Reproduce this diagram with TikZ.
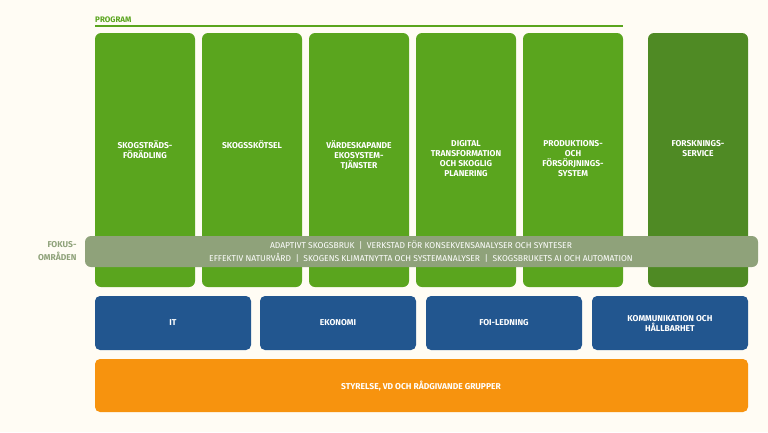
\documentclass[tikz,border=0pt]{standalone}
\usepackage{fontspec}
\setmainfont{Fira Sans}
\usepackage{tikz}
\definecolor{bg}{HTML}{FFFCF4}
\definecolor{prog}{HTML}{5AA51E}
\definecolor{serv}{HTML}{4F8A24}
\definecolor{band}{HTML}{8FA27A}
\definecolor{stod}{HTML}{22568F}
\definecolor{styr}{HTML}{F7930E}
\definecolor{lbl}{HTML}{8FA27A}
\tikzset{
  col/.style={fill=prog, rounded corners=6pt},
  box/.style={fill=stod, rounded corners=5pt},
  txt/.style={text=white, font=\fontsize{8.5}{10}\selectfont\bfseries, align=center},
}
\begin{document}
\begin{tikzpicture}[x=1pt,y=-1pt]
\fill[bg] (0,0) rectangle (768,432);
\useasboundingbox (0,0) rectangle (768,432);
% program
\node[anchor=south west, inner sep=0pt, text=prog, font=\fontsize{8}{9}\selectfont\bfseries] (prog) at (95,23) {PROGRAM};
\draw[prog, line width=2pt] (95,26) -- (623,26);
\fill[col] (95,33) rectangle (195,287);
\fill[col] (202,33) rectangle (302,287);
\fill[col] (309,33) rectangle (409,287);
\fill[col] (416,33) rectangle (516,287);
\fill[col] (523,33) rectangle (623,287);
\fill[col, fill=serv] (648,33) rectangle (748,287);
\node[txt, anchor=north] (p1) at (145,137) {SKOGSTRÄDS-\\FÖRÄDLING};
\node[txt, anchor=north] (p2) at (252,137) {SKOGSSKÖTSEL};
\node[txt, anchor=north] (p3) at (359,137) {VÄRDESKAPANDE\\EKOSYSTEM-\\TJÄNSTER};
\node[txt, anchor=north] (p4) at (466,137) {DIGITAL\\TRANSFORMATION\\OCH SKOGLIG\\PLANERING};
\node[txt, anchor=north] (p5) at (573,137) {PRODUKTIONS-\\OCH\\FÖRSÖRJNINGS-\\SYSTEM};
\node[txt, anchor=north] (fs) at (698,137) {FORSKNINGS-\\SERVICE};
% fokusomraden
\fill[band, rounded corners=6pt] (85,236) rectangle (758,267);
\node[txt, font=\fontsize{8.5}{13}\selectfont] (fokus) at (421,252) {ADAPTIVT SKOGSBRUK~~|~~VERKSTAD FÖR KONSEKVENSANALYSER OCH SYNTESER\\EFFEKTIV NATURVÅRD~~|~~SKOGENS KLIMATNYTTA OCH SYSTEMANALYSER~~|~~SKOGSBRUKETS AI OCH AUTOMATION};
\node[txt, text=lbl, anchor=east, font=\fontsize{8.5}{13}\selectfont\bfseries, align=right] (fo) at (80,251) {FOKUS-\\OMRÅDEN};
% stod
\fill[box] (95,296) rectangle (251,350);
\fill[box] (260,296) rectangle (416,350);
\fill[box] (426,296) rectangle (582,350);
\fill[box] (592,296) rectangle (748,350);
\node[txt] (it) at (173,323) {IT};
\node[txt] (ek) at (338,323) {EKONOMI};
\node[txt] (foi) at (504,323) {FOI-LEDNING};
\node[txt] (kom) at (670,323) {KOMMUNIKATION OCH\\HÅLLBARHET};
\fill[box, fill=styr] (95,359) rectangle (748,412);
\node[txt] (styr) at (421,386) {STYRELSE, VD OCH RÅDGIVANDE GRUPPER};
\end{tikzpicture}
\end{document}
